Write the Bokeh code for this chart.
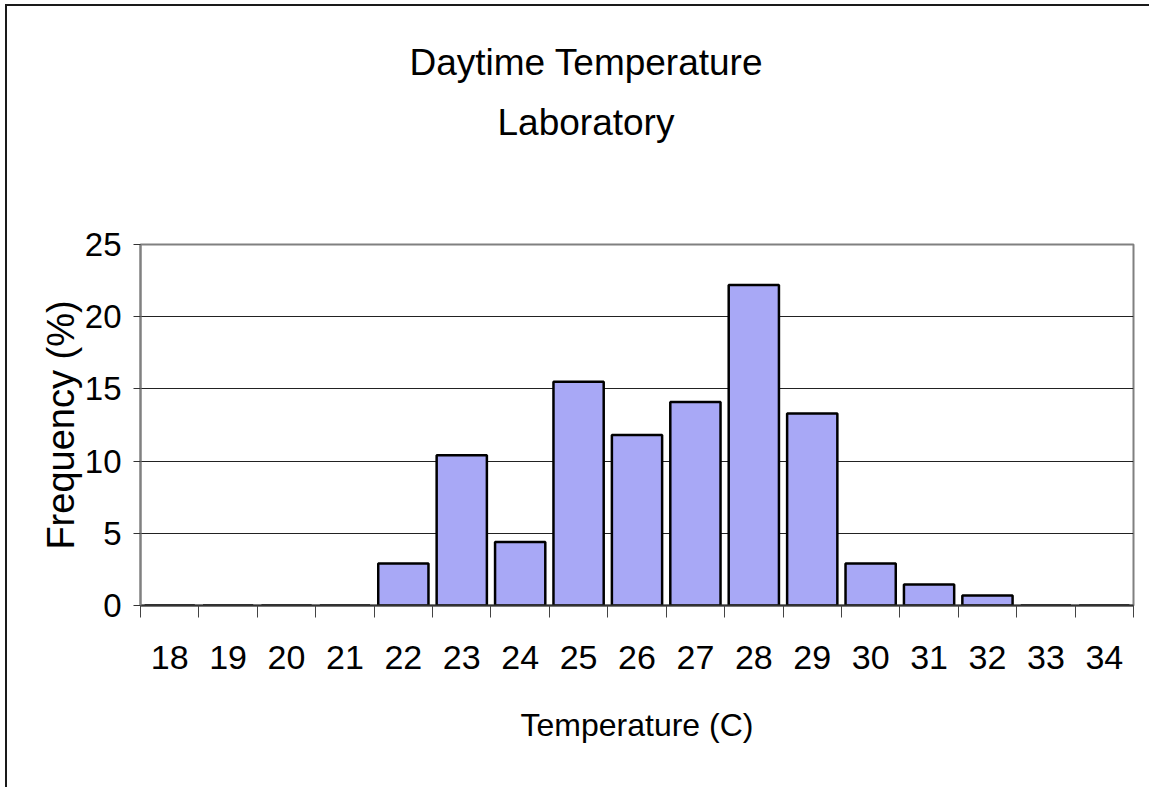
from bokeh.plotting import figure
from bokeh.models import Range1d, FixedTicker, Title
from bokeh.embed import file_html
from bokeh.resources import INLINE

temps = [18, 19, 20, 21, 22, 23, 24, 25, 26, 27, 28, 29, 30, 31, 32, 33, 34]
freq = [0, 0, 0, 0, 2.9, 10.4, 4.4, 15.5, 11.8, 14.1, 22.2, 13.3, 2.9, 1.45, 0.7, 0, 0]
y_ticks = [0, 5, 10, 15, 20, 25]

SANS = "'Liberation Sans', Arial, sans-serif"

p = figure(width=1144, height=783, output_backend="svg", toolbar_location=None,
           x_range=Range1d(temps[0] - 0.5, temps[-1] + 0.5), y_range=Range1d(0, 25),
           min_border_left=133, min_border_right=18, min_border_top=238, min_border_bottom=184)
p.styles = {"border-left": "2px solid #1a1a1a", "border-top": "2px solid #1a1a1a",
            "margin-left": "5px", "margin-top": "4px"}
p.background_fill_color = "white"
p.border_fill_color = "white"
p.outline_line_color = "#808080"
p.outline_line_width = 2

p.vbar(x=temps, top=freq, bottom=0, width=0.86, fill_color="#a8a8f6",
       line_color="black", line_width=2.5)

# grid
p.xgrid.grid_line_color = None
p.ygrid.ticker = FixedTicker(ticks=y_ticks)
p.ygrid.grid_line_color = "#222222"
p.ygrid.grid_line_width = 1

# x axis
xa = p.xaxis[0]
xa.ticker = FixedTicker(ticks=temps, minor_ticks=[t - 0.5 for t in temps] + [temps[-1] + 0.5])
xa.major_tick_line_color = None
xa.major_tick_out = 12
xa.major_tick_in = 0
xa.minor_tick_out = 12
xa.minor_tick_in = 0
xa.minor_tick_line_color = "#444444"
xa.axis_line_color = "#333333"
xa.axis_line_width = 2
xa.major_label_text_font = SANS
xa.major_label_text_font_size = "34px"
xa.major_label_text_color = "black"
xa.major_label_standoff = 28
xa.axis_label = "Temperature (C)"
xa.axis_label_text_font = SANS
xa.axis_label_text_font_size = "32px"
xa.axis_label_text_font_style = "normal"
xa.axis_label_text_color = "black"
xa.axis_label_standoff = 35

# y axis
ya = p.yaxis[0]
ya.ticker = FixedTicker(ticks=y_ticks)
ya.minor_tick_line_color = None
ya.major_tick_out = 7
ya.major_tick_in = 0
ya.major_tick_line_color = "#333333"
ya.axis_line_color = "#808080"
ya.axis_line_width = 2
ya.major_label_text_font = SANS
ya.major_label_text_font_size = "33px"
ya.major_label_text_color = "black"
ya.major_label_standoff = 12
ya.axis_label = "Frequency (%)"
ya.axis_label_text_font = SANS
ya.axis_label_text_font_size = "38px"
ya.axis_label_text_font_style = "normal"
ya.axis_label_text_color = "black"
ya.axis_label_standoff = 0

p.title = None
spacer = Title(text=" ", standoff=90, text_font_size="1px")
t2 = Title(text="Laboratory", align="left", offset=357, standoff=18,
           text_font=SANS, text_font_size="37px", text_font_style="normal", text_color="black")
t1 = Title(text="Daytime Temperature", align="left", offset=269, standoff=16,
           text_font=SANS, text_font_size="37px", text_font_style="normal", text_color="black")
p.add_layout(spacer, "above")
p.add_layout(t2, "above")
p.add_layout(t1, "above")

open("out.html", "w").write(file_html(p, INLINE))
